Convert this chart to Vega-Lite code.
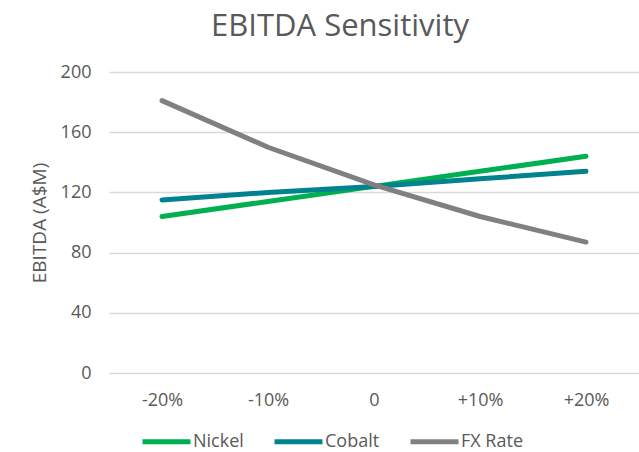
{
  "$schema": "https://vega.github.io/schema/vega-lite/v6.json",
  "autosize": {"type": "none"},
  "width": 530,
  "height": 301,
  "padding": {"left": 109, "top": 72, "right": 0, "bottom": 79},
  "background": "white",
  "title": {
    "text": "EBITDA Sensitivity",
    "font": "Open Sans",
    "fontSize": 31,
    "fontWeight": "normal",
    "color": "#595959",
    "anchor": "middle",
    "offset": 20,
    "dx": -34
  },
  "config": {
    "view": {"stroke": null},
    "font": "Open Sans"
  },
  "data": {
    "values": [
      {"change": "-20%", "series": "Nickel", "value": 104},
      {"change": "-10%", "series": "Nickel", "value": 114},
      {"change": "0", "series": "Nickel", "value": 124},
      {"change": "+10%", "series": "Nickel", "value": 134},
      {"change": "+20%", "series": "Nickel", "value": 144},
      {"change": "-20%", "series": "Cobalt", "value": 115},
      {"change": "-10%", "series": "Cobalt", "value": 120},
      {"change": "0", "series": "Cobalt", "value": 124},
      {"change": "+10%", "series": "Cobalt", "value": 129},
      {"change": "+20%", "series": "Cobalt", "value": 134},
      {"change": "-20%", "series": "FX Rate", "value": 181},
      {"change": "-10%", "series": "FX Rate", "value": 150},
      {"change": "0", "series": "FX Rate", "value": 125},
      {"change": "+10%", "series": "FX Rate", "value": 104},
      {"change": "+20%", "series": "FX Rate", "value": 87}
    ]
  },
  "mark": {"type": "line", "strokeWidth": 5, "strokeCap": "round", "strokeJoin": "round"},
  "encoding": {
    "x": {
      "field": "change",
      "type": "ordinal",
      "sort": ["-20%", "-10%", "0", "+10%", "+20%"],
      "scale": {"type": "point", "padding": 0.5},
      "axis": {
        "title": null,
        "labelAngle": 0,
        "labelFontSize": 18,
        "labelColor": "#595959",
        "labelPadding": 18,
        "ticks": false,
        "domain": false,
        "grid": false
      }
    },
    "y": {
      "field": "value",
      "type": "quantitative",
      "scale": {"domain": [0, 200]},
      "axis": {
        "title": "EBITDA (A$M)",
        "titleFontSize": 19,
        "titleFontWeight": "normal",
        "titleColor": "#595959",
        "titlePadding": 11,
        "values": [0, 40, 80, 120, 160, 200],
        "labelFontSize": 18,
        "labelColor": "#595959",
        "labelPadding": 18,
        "ticks": false,
        "domain": false,
        "gridColor": "#D9D9D9",
        "gridWidth": 1.5
      }
    },
    "color": {
      "field": "series",
      "type": "nominal",
      "scale": {
        "domain": ["Nickel", "Cobalt", "FX Rate"],
        "range": ["#00B050", "#00838F", "#808080"]
      },
      "legend": {
        "title": null,
        "orient": "none",
        "legendX": 43,
        "legendY": 355,
        "direction": "horizontal",
        "symbolType": "M-2,0H2",
        "symbolStrokeWidth": 5,
        "symbolSize": 576,
        "labelFontSize": 18,
        "labelColor": "#595959",
        "labelOffset": 12,
        "columnPadding": 20
      }
    }
  }
}
